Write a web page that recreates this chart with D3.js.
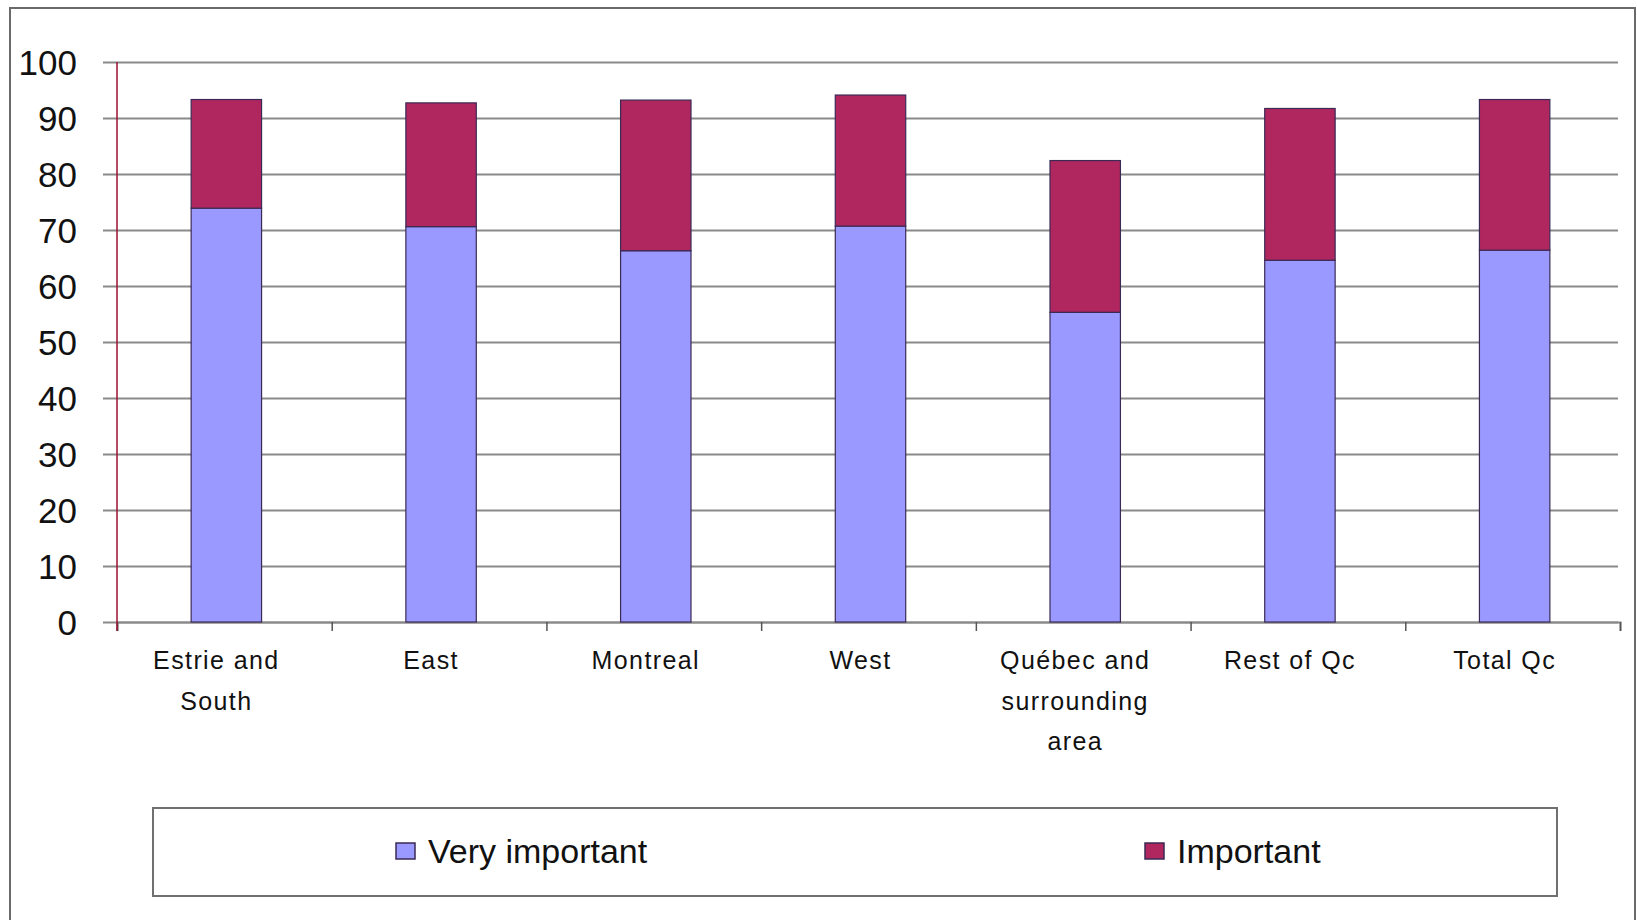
<!DOCTYPE html>
<html>
<head>
<meta charset="utf-8">
<script src="https://cdn.jsdelivr.net/npm/d3@7"></script>
<style>
  body { margin: 0; background: #fff; }
  svg { display: block; font-family: "Liberation Sans", Arial, sans-serif; }
</style>
</head>
<body>
<svg id="drawing_region"></svg>
<script>
// data
const categories = ["Estrie and South", "East", "Montreal", "West",
                    "Québec and surrounding area", "Rest of Qc", "Total Qc"];
const veryImportant = [73.9, 70.6, 66.3, 70.7, 55.3, 64.6, 66.4];
const important     = [19.4, 22.1, 26.9, 23.4, 27.1, 27.1, 26.9];
const seriesNames = ["Very important", "Important"];
const yTicks = [0, 10, 20, 30, 40, 50, 60, 70, 80, 90, 100];

const config = {
    width: 1637,
    height: 920,
    left: 117, right: 1620,
    top: 62, bottom: 622,
    colors: ["#9999ff", "#b0265f"]
};

const table = categories.map((c, i) => ({
    cat: c,
    "Very important": veryImportant[i],
    "Important": important[i]
}));

const svg = d3.select('#drawing_region')
    .attr('width', config.width)
    .attr('height', config.height);

// outer frame
svg.append('rect')
    .attr('x', 10).attr('y', 8)
    .attr('width', 1625).attr('height', 930)
    .attr('fill', 'none')
    .attr('stroke', '#6a6a6a')
    .attr('stroke-width', 2);

const xscale = d3.scaleBand()
    .domain(categories)
    .range([config.left + 2, config.right + 2])
    .paddingInner(0.672)
    .paddingOuter(0.336);

const yscale = d3.scaleLinear()
    .domain([0, 100])
    .range([config.bottom, config.top]);

// gridlines + y labels
const gridStart = 103;
const yaxis = d3.axisLeft(yscale)
    .tickValues(yTicks)
    .tickSize(-(1618 - gridStart))
    .tickPadding(26);

const yg = svg.append('g')
    .attr('transform', `translate(${gridStart},0)`)
    .call(yaxis);
yg.select('.domain').remove();
yg.selectAll('.tick line')
    .attr('stroke', '#8a8a8a')
    .attr('stroke-width', 2);
yg.selectAll('.tick text')
    .attr('fill', '#111')
    .style('font-size', '35px')
    .attr('dy', '0.36em');

// x axis ticks on category boundaries
const bscale = d3.scaleLinear()
    .domain([0, categories.length])
    .range([config.left, config.right]);
const xg = svg.append('g')
    .attr('transform', `translate(0,${config.bottom})`)
    .call(d3.axisBottom(bscale).ticks(categories.length).tickSize(9).tickFormat(''));
xg.select('.domain')
    .attr('stroke', '#8a8a8a')
    .attr('stroke-width', 2);
xg.selectAll('.tick line')
    .attr('stroke', '#555')
    .attr('stroke-width', 1.5);

// stacked bars
const stack = d3.stack().keys(seriesNames);
const layers = svg.append('g').selectAll('g')
    .data(stack(table))
    .join('g')
    .attr('fill', (d, i) => config.colors[i]);

layers.selectAll('rect')
    .data(d => d)
    .join('rect')
    .attr('x', d => xscale(d.data.cat))
    .attr('width', xscale.bandwidth())
    .attr('y', d => yscale(d[1]))
    .attr('height', d => yscale(d[0]) - yscale(d[1]))
    .attr('stroke', '#3b2a55')
    .attr('stroke-width', 1.2);

// y axis line (dark red)
svg.append('line')
    .attr('x1', config.left).attr('x2', config.left)
    .attr('y1', config.top).attr('y2', config.bottom + 9)
    .attr('stroke', '#9a1030')
    .attr('stroke-width', 1.5);

// category labels, wrapped
function wrap(text, width) {
    text.each(function () {
        const t = d3.select(this);
        const words = t.text().split(/\s+/);
        const x = t.attr('x');
        t.text(null);
        let line = [];
        let tspan = t.append('tspan').attr('x', x).attr('dy', 0);
        words.forEach(w => {
            line.push(w);
            tspan.text(line.join(' '));
            if (tspan.node().getComputedTextLength() > width && line.length > 1) {
                line.pop();
                tspan.text(line.join(' '));
                line = [w];
                tspan = t.append('tspan').attr('x', x).attr('dy', '1.62em').text(w);
            }
        });
    });
}

svg.append('g').selectAll('text')
    .data(categories)
    .join('text')
    .attr('x', d => xscale(d) + xscale.bandwidth() / 2 - 10)
    .attr('y', 669)
    .attr('text-anchor', 'middle')
    .attr('fill', '#111')
    .style('font-size', '25px')
    .style('letter-spacing', '1.4px')
    .text(d => d)
    .call(wrap, 170);

// legend
svg.append('rect')
    .attr('x', 153).attr('y', 808)
    .attr('width', 1404).attr('height', 88)
    .attr('fill', '#fff')
    .attr('stroke', '#707070')
    .attr('stroke-width', 2);

const legendX = [396, 1145];
const legend = svg.append('g').selectAll('g')
    .data(seriesNames)
    .join('g')
    .attr('transform', (d, i) => `translate(${legendX[i]},851)`);
legend.append('rect')
    .attr('x', 0).attr('y', -8)
    .attr('width', 19).attr('height', 16)
    .attr('fill', (d, i) => config.colors[i])
    .attr('stroke', '#3b2a55')
    .attr('stroke-width', 1.5);
legend.append('text')
    .attr('x', 32).attr('y', 0)
    .attr('dy', '0.36em')
    .attr('fill', '#111')
    .style('font-size', '34px')
    .text(d => d);
</script>
</body>
</html>
